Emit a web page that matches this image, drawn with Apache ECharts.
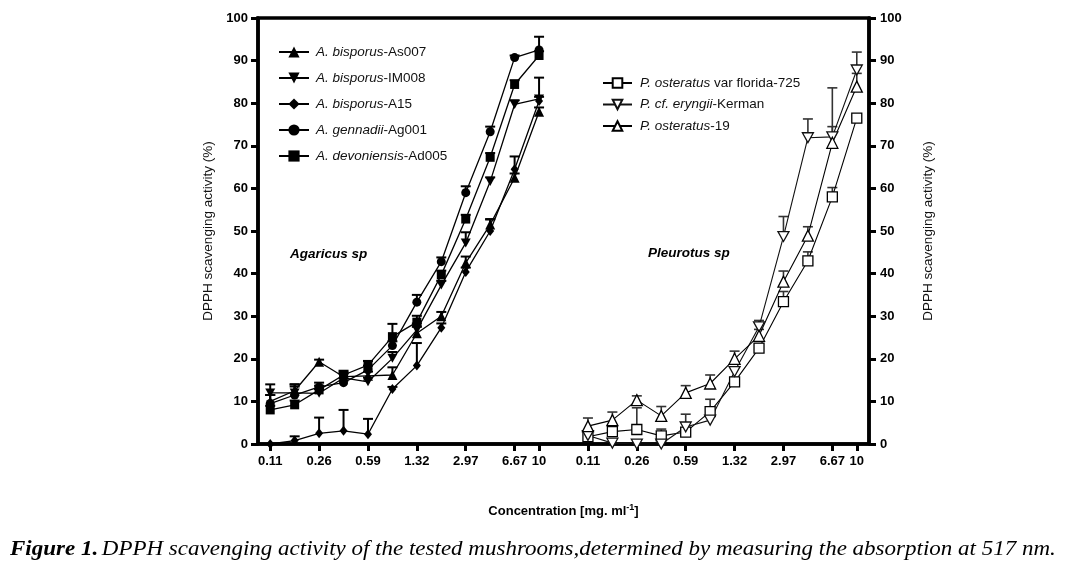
<!DOCTYPE html>
<html><head><meta charset="utf-8">
<script src="https://cdn.jsdelivr.net/npm/echarts@6/dist/echarts.min.js"></script>
<style>html,body{margin:0;padding:0;background:#fff}#c{width:1091px;height:569px}</style>
</head><body><div id="c"></div>
<script>
// ---- data ----
const concentrations = ['0.11','0.17','0.26','0.39','0.59','0.88','1.32','1.98','2.97','4.45','6.67','10'];
const tickLabels = ['0.11','0.26','0.59','1.32','2.97','6.67','10'];

const agaricusSpecies = ['A. bisporus','A. bisporus','A. bisporus','A. gennadii','A. devoniensis'];
const agaricusStrains = ['-As007','-IM008','-A15','-Ag001','-Ad005'];
const pleurotusSpecies = ['P. osteratus','P. cf. eryngii','P. osteratus'];
const pleurotusStrains = [' var florida-725','-Kerman','-19'];

const as007 = [10, 12.5, 19.3, 15.8, 16, 16.2, 26, 30, 42.5, 51.5, 62.5, 78];
const as007Err = [1.5, 1.5, 0.5, 1, 1, 1.8, 1.5, 1, 1.5, 1.2, 1, 1];
const im008 = [12, 12, 11.9, 15.5, 14.6, 20.1, 26.8, 37.3, 47.2, 61.6, 79.7, 81];
const im008Err = [2, 2, 1, 1, 1, 1.5, 1.5, 1, 2.5, 1, 1, 5];
const a15 = [0, 0.8, 2.5, 3.1, 2.3, 12.9, 18.4, 27.3, 40.4, 50, 64.5, 80.5];
const a15Err = [0, 1, 3.7, 4.9, 3.6, 0.5, 5.3, 1, 1, 2.8, 3, 1];
const ag001 = [9.5, 11.5, 13.4, 14.4, 17.4, 23.1, 33.3, 42.8, 59, 73.3, 90.7, 92.5];
const ag001Err = [2, 2, 1, 1, 1, 1, 1.7, 1, 1.5, 1.2, 0.5, 3.1];
const ad005 = [8, 9.2, 12.7, 16.2, 18.5, 25.2, 28.6, 39.7, 52.8, 67.3, 84.4, 91.2];
const ad005Err = [1, 1, 1, 1, 1, 3, 1.5, 1, 1, 1, 1, 1];

const florida725 = [1.7, 2.9, 3.4, 1.9, 2.8, 7.6, 14.6, 22.5, 33.4, 43, 58, 76.5];
const florida725Err = [1, 1, 5.1, 1.6, 1, 2.9, 1, 1, 2.4, 2.1, 2.2, 0.5];
const kerman = [2, 0.2, 0, 0, 4, 5.6, 17, 27.5, 48.7, 71.9, 72.1, 87.8];
const kermanErr = [1, 0, 0, 0, 3, 1, 1, 1.5, 4.7, 4.4, 11.5, 4.2];
const osteratus19 = [4.2, 5.6, 10.3, 6.6, 12, 14.2, 20, 25.4, 38.1, 48.9, 70.7, 83.9];
const osteratus19Err = [1.9, 1.9, 1, 2.2, 1.7, 2, 1.8, 1.5, 2.5, 2.1, 3.8, 3.1];

const yTicks = [0, 100, 10];

// ---- build ----
const categories = concentrations.map(c => 'A ' + c).concat([' '], concentrations.map(c => 'P ' + c));
const strip = v => String(v).slice(2);
const isTick = (idx, v) => tickLabels.indexOf(strip(v)) >= 0;
const offsetRight = concentrations.length + 1;

const downTri = 'path://M0,0L10,0L5,9Z';
const leftDefs = [
  {vals: as007, err: as007Err, symbol: 'triangle', size: 10},
  {vals: im008, err: im008Err, symbol: downTri, size: 10},
  {vals: a15, err: a15Err, symbol: 'diamond', size: [8, 10]},
  {vals: ag001, err: ag001Err, symbol: 'circle', size: 9},
  {vals: ad005, err: ad005Err, symbol: 'rect', size: 9}
];
const rightDefs = [
  {vals: florida725, err: florida725Err, symbol: 'rect', size: 10, color: '#000'},
  {vals: kerman, err: kermanErr, symbol: downTri, size: 11, color: '#111'},
  {vals: osteratus19, err: osteratus19Err, symbol: 'triangle', size: 11, color: '#000'}
];
const leftNames = agaricusSpecies.map((s, i) => s + agaricusStrains[i]);
const rightNames = pleurotusSpecies.map((s, i) => s + pleurotusStrains[i]);
const nameParts = {};
leftNames.forEach((n, i) => nameParts[n] = [agaricusSpecies[i], agaricusStrains[i]]);
rightNames.forEach((n, i) => nameParts[n] = [pleurotusSpecies[i], pleurotusStrains[i]]);

function errSeries(vals, err, off, color, w) {
  return {
    type: 'custom', z: 1, silent: true,
    data: vals.map((v, i) => [i + off, v, v + err[i]]),
    renderItem: (params, api) => {
      const p0 = api.coord([api.value(0), api.value(1)]);
      const p1 = api.coord([api.value(0), api.value(2)]);
      if (api.value(2) - api.value(1) < 0.01) return null;
      const st = {stroke: color, lineWidth: w};
      return {type: 'group', children: [
        {type: 'line', shape: {x1: p0[0], y1: p0[1], x2: p1[0], y2: p1[1]}, style: st},
        {type: 'line', shape: {x1: p1[0] - 5, y1: p1[1], x2: p1[0] + 5, y2: p1[1]}, style: st}
      ]};
    }
  };
}

const series = [];
leftDefs.forEach((d, k) => {
  series.push({
    name: leftNames[k], type: 'line', z: 3,
    data: d.vals.map((v, i) => [i, v]),
    symbol: d.symbol, symbolSize: d.size, symbolKeepAspect: true,
    lineStyle: {color: '#000', width: 1.3},
    itemStyle: {color: '#000', borderWidth: 0},
    clip: false
  });
  series.push(errSeries(d.vals, d.err, 0, '#000', 2));
});
rightDefs.forEach((d, k) => {
  series.push({
    name: rightNames[k], type: 'line', z: 3,
    data: d.vals.map((v, i) => [i + offsetRight, v]),
    symbol: d.symbol, symbolSize: d.size, symbolKeepAspect: true,
    lineStyle: {color: d.color, width: 1.1},
    itemStyle: {color: '#fff', borderColor: d.color, borderWidth: 1.3},
    clip: false
  });
  series.push(errSeries(d.vals, d.err, offsetRight, '#333', 1.6));
});

const legendRich = {
  i: {fontStyle: 'italic', fontFamily: 'Liberation Sans', fontSize: 13.5, color: '#111'},
  r: {fontFamily: 'Liberation Sans', fontSize: 13.5, color: '#111'}
};
const legendFmt = n => '{i|' + nameParts[n][0] + '}{r|' + nameParts[n][1] + '}';

const yLabel = {fontFamily: 'Liberation Sans', fontWeight: 'bold', fontSize: 13, color: '#000'};
const yName = 'DPPH scavenging activity (%)';
const yCommon = {
  type: 'value', min: yTicks[0], max: yTicks[1], interval: yTicks[2],
  splitLine: {show: false},
  axisLine: {show: true, lineStyle: {color: '#000', width: 3.5}},
  axisTick: {show: true, length: 7, lineStyle: {color: '#000', width: 3}},
  nameLocation: 'middle', nameRotate: 90,
  nameTextStyle: {fontFamily: 'Liberation Sans', fontSize: 13.5, color: '#111'}
};

const chart = echarts.init(document.getElementById('c'), null, {renderer: 'canvas'});
chart.setOption({
  animation: false,
  backgroundColor: '#fff',
  grid: {left: 258, right: 222, top: 18, bottom: 125, show: true, borderColor: '#000', borderWidth: 3.5, outerBoundsMode: 'none', containLabel: false},
  xAxis: {
    type: 'category', data: categories, boundaryGap: true,
    axisLine: {show: true, lineStyle: {color: '#000', width: 3.5}},
    axisTick: {show: true, alignWithLabel: true, interval: isTick, length: 7, lineStyle: {color: '#000', width: 3}},
    axisLabel: {interval: isTick, formatter: v => strip(v), margin: 11, fontFamily: 'Liberation Sans', fontWeight: 'bold', fontSize: 13, color: '#000'},
    name: '{b|Concentration [mg. ml}{s|-1}{b|]}', nameLocation: 'middle', nameGap: 59,
    nameTextStyle: {rich: {
      b: {fontFamily: 'Liberation Sans', fontWeight: 'bold', fontSize: 13, color: '#000'},
      s: {fontFamily: 'Liberation Sans', fontWeight: 'bold', fontSize: 9, color: '#000', verticalAlign: 'top', padding: [0, 0, 8, 0]}
    }}
  },
  yAxis: [
    Object.assign({}, yCommon, {position: 'left', name: yName, nameGap: 39,
      axisLabel: Object.assign({margin: 10}, yLabel)}),
    Object.assign({}, yCommon, {position: 'right', name: yName, nameGap: 52,
      axisLabel: Object.assign({margin: 11}, yLabel)})
  ],
  legend: [
    {data: leftNames, orient: 'vertical', left: 273, top: 40, itemWidth: 30, itemHeight: 14, itemGap: 12,
     formatter: legendFmt, textStyle: {rich: legendRich, padding: [0, 0, 0, 2]}, selectedMode: false},
    {data: rightNames, orient: 'vertical', left: 597, top: 71, itemWidth: 29, itemHeight: 12, itemGap: 7.5,
     formatter: legendFmt, textStyle: {rich: legendRich, padding: [0, 0, 0, 3]}, selectedMode: false}
  ],
  graphic: [
    {type: 'text', left: 290, top: 247, style: {text: 'Agaricus sp', font: 'italic bold 13.5px "Liberation Sans"', fill: '#000'}},
    {type: 'text', left: 648, top: 246, style: {text: 'Pleurotus sp', font: 'italic bold 13.5px "Liberation Sans"', fill: '#000'}},
    {type: 'text', x: 10, y: 539, scaleX: 1.095, style: {
      text: '{b|Figure 1.} {t|DPPH scavenging activity of the tested mushrooms,determined by measuring the absorption at 517 nm.}',
      rich: {
        b: {font: 'italic bold 21px "Liberation Serif"', fill: '#000'},
        t: {font: 'italic 21px "Liberation Serif"', fill: '#000'}
      }
    }}
  ],
  series: series
});
</script>
</body></html>
